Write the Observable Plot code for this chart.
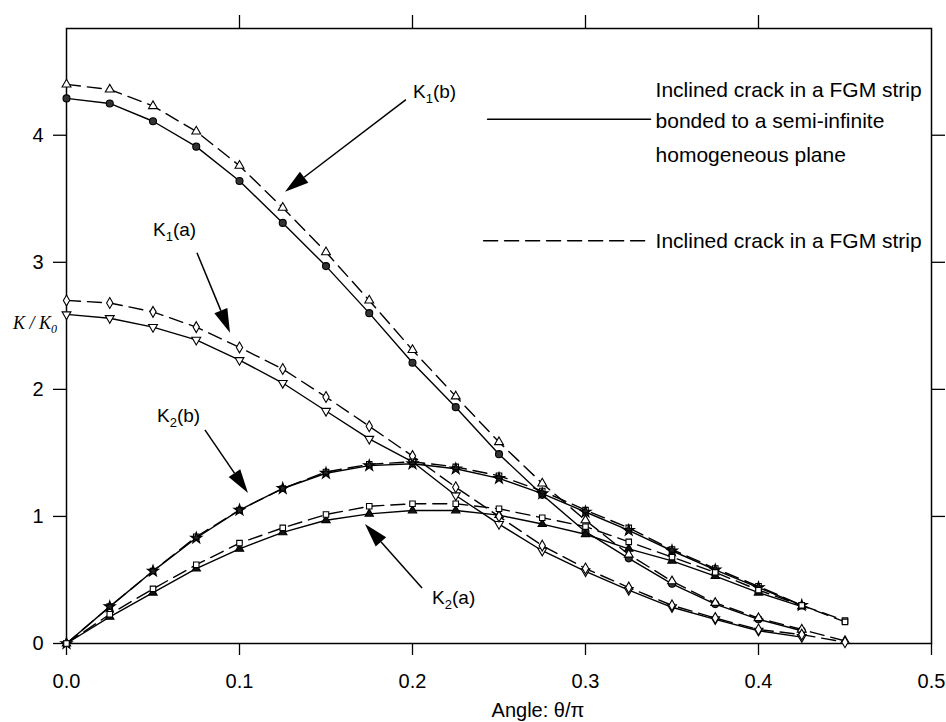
<!DOCTYPE html>
<html>
<head>
<meta charset="utf-8">
<script src="https://cdn.jsdelivr.net/npm/d3@7"></script>
<script src="https://cdn.jsdelivr.net/npm/@observablehq/plot@0.6"></script>
<style>
  html, body { margin: 0; padding: 0; background: #fff; }
  #chart svg { display: block; }
</style>
</head>
<body>
<div id="chart"></div>
<script>
// ---------- data ----------
const theta = [0, 0.025, 0.05, 0.075, 0.1, 0.125, 0.15, 0.175, 0.2, 0.225, 0.25, 0.275, 0.3, 0.325, 0.35, 0.375, 0.4, 0.425, 0.45];
const xTicks = [0, 0.1, 0.2, 0.3, 0.4, 0.5];
const yTicks = [0, 1, 2, 3, 4];

// solid: FGM strip bonded to a semi-infinite homogeneous plane
const K1b_solid  = [4.29, 4.25, 4.11, 3.91, 3.64, 3.31, 2.97, 2.60, 2.21, 1.86, 1.49, 1.17, 0.88, 0.67, 0.47, 0.31, 0.19, 0.10];
const K1a_solid  = [2.59, 2.56, 2.49, 2.39, 2.23, 2.05, 1.83, 1.61, 1.43, 1.165, 0.94, 0.73, 0.567, 0.42, 0.285, 0.19, 0.10, 0.05];
const K2b_solid  = [0, 0.29, 0.57, 0.83, 1.05, 1.22, 1.34, 1.40, 1.415, 1.375, 1.30, 1.18, 1.035, 0.89, 0.73, 0.58, 0.44, 0.30];
const K2a_solid  = [0, 0.21, 0.40, 0.59, 0.745, 0.875, 0.97, 1.02, 1.047, 1.047, 1.01, 0.94, 0.86, 0.745, 0.65, 0.53, 0.40, 0.29];
// dashed: FGM strip alone
const K1b_dashed = [4.40, 4.36, 4.23, 4.03, 3.76, 3.43, 3.08, 2.70, 2.31, 1.945, 1.585, 1.26, 0.97, 0.70, 0.49, 0.32, 0.20, 0.11, 0.02];
const K1a_dashed = [2.70, 2.68, 2.61, 2.49, 2.33, 2.16, 1.94, 1.71, 1.475, 1.23, 1.00, 0.77, 0.59, 0.44, 0.30, 0.20, 0.11, 0.07, 0.01];
const K2b_dashed = [0, 0.29, 0.57, 0.84, 1.05, 1.22, 1.35, 1.41, 1.43, 1.39, 1.32, 1.20, 1.05, 0.91, 0.74, 0.59, 0.45, 0.30, 0.18];
const K2a_dashed = [0, 0.23, 0.43, 0.62, 0.79, 0.91, 1.015, 1.08, 1.10, 1.10, 1.06, 0.99, 0.92, 0.80, 0.68, 0.56, 0.42, 0.30, 0.17];

const legendText1 = ["Inclined crack in a FGM strip", "bonded to a semi-infinite", "homogeneous plane"];
const legendText2 = "Inclined crack in a FGM strip";
const xLabel = "Angle: θ/π";

// annotation labels (K with subscript) and arrows, in data units
const annLabels = [
  {sub: "1", tail: "(b)", x: 0.2006, y: 4.343},
  {sub: "1", tail: "(a)", x: 0.0503, y: 3.256},
  {sub: "2", tail: "(b)", x: 0.0526, y: 1.791},
  {sub: "2", tail: "(a)", x: 0.2116, y: 0.358}
];
const annArrows = [
  {x1: 0.1965, y1: 4.276, x2: 0.1266, y2: 3.551},
  {x1: 0.0757, y1: 3.071, x2: 0.0948, y2: 2.441},
  {x1: 0.0803, y1: 1.677, x2: 0.1052, y2: 1.181},
  {x1: 0.2058, y1: 0.433, x2: 0.1728, y2: 0.937}
];

// legend geometry in data units
const legendSolidLine = [{x: 0.2434, y: 4.126}, {x: 0.3376, y: 4.126}];
const legendDashLine  = [{x: 0.2411, y: 3.17}, {x: 0.3347, y: 3.17}];
const legendTextX = 0.3405;
const legendText1Y = [4.35, 4.108, 3.845];
const legendText2Y = 3.165;

// ---------- styles ----------
const FONT = "'Liberation Sans', Arial, Helvetica, sans-serif";
const DASH = "14,7";
const series = [
  {values: K1b_solid,  dashed: false, symbol: "circle",   fill: "#333", rotate: 0,   r: 3.5},
  {values: K1a_solid,  dashed: false, symbol: "triangle", fill: "white", rotate: 180, r: 3.3},
  {values: K2b_solid,  dashed: false, symbol: "star",     fill: "#222", rotate: 0,   r: 3.5},
  {values: K2a_solid,  dashed: false, symbol: "triangle", fill: "#111", rotate: 0,   r: 3.1},
  {values: K1b_dashed, dashed: true,  symbol: "triangle", fill: "white", rotate: 0,   r: 3.3},
  {values: K1a_dashed, dashed: true,  symbol: "diamond",  fill: "white", rotate: 0,   r: 3.3},
  {values: K2b_dashed, dashed: true,  symbol: "square",   fill: "none",  rotate: 0,   r: 3.1},
  {values: K2a_dashed, dashed: true,  symbol: "square",   fill: "white", rotate: 0,   r: 3.1}
];

const toRows = (vals) => vals.map((v, i) => ({x: theta[i], y: v}));

const marks = [];
marks.push(Plot.frame({stroke: "black", strokeWidth: 1.5}));
marks.push(Plot.axisX({anchor: "bottom", ticks: xTicks, tickFormat: d3.format(".1f"), tickSize: 12, tickPadding: 18, fontSize: 20, label: null, strokeWidth: 1.3}));
marks.push(Plot.axisX({anchor: "top", ticks: xTicks.slice(1, -1), tickFormat: () => "", tickSize: 14, label: null, strokeWidth: 1.3}));
marks.push(Plot.axisY({anchor: "left", ticks: yTicks, tickFormat: d3.format("d"), tickSize: 13, tickPadding: 10, fontSize: 20, label: null, strokeWidth: 1.3}));
marks.push(Plot.axisY({anchor: "right", ticks: yTicks.slice(1), tickFormat: () => "", tickSize: 13, label: null, strokeWidth: 1.3}));

for (const s of series) {
  marks.push(Plot.line(toRows(s.values), {x: "x", y: "y", stroke: "black", strokeWidth: 1.4, strokeDasharray: s.dashed ? DASH : null}));
}
for (const s of series) {
  marks.push(Plot.dot(toRows(s.values), {x: "x", y: "y", symbol: s.symbol, r: s.r, fill: s.fill, stroke: "black", strokeWidth: 1.1, rotate: s.rotate}));
}

// legend
marks.push(Plot.line(legendSolidLine, {x: "x", y: "y", stroke: "black", strokeWidth: 1.5}));
marks.push(Plot.line(legendDashLine, {x: "x", y: "y", stroke: "black", strokeWidth: 1.5, strokeDasharray: DASH}));
marks.push(Plot.text(legendText1, {x: () => legendTextX, y: (d, i) => legendText1Y[i], text: d => d, textAnchor: "start", lineAnchor: "middle", fontSize: 21, fill: "black"}));
marks.push(Plot.text([legendText2], {x: () => legendTextX, y: () => legendText2Y, text: d => d, textAnchor: "start", lineAnchor: "middle", fontSize: 21, fill: "black"}));

// x-axis title
marks.push(Plot.text([xLabel], {x: () => 0.2725, y: () => 0, dy: 67, text: d => d, textAnchor: "middle", lineAnchor: "middle", fontSize: 20, fill: "black"}));

// annotations: arrows with filled heads, K labels with subscripts, y label
marks.push((index, scales, values, dimensions) => {
  const g = d3.create("svg:g");
  for (const a of annArrows) {
    const x1 = scales.x(a.x1), y1 = scales.y(a.y1), x2 = scales.x(a.x2), y2 = scales.y(a.y2);
    const ang = Math.atan2(y2 - y1, x2 - x1);
    const L = 24, W = 7;
    const bx = x2 - L * Math.cos(ang), by = y2 - L * Math.sin(ang);
    g.append("line").attr("x1", x1).attr("y1", y1).attr("x2", bx).attr("y2", by)
      .attr("stroke", "black").attr("stroke-width", 1.5);
    g.append("polygon")
      .attr("points", `${x2},${y2} ${bx + W * Math.sin(ang)},${by - W * Math.cos(ang)} ${bx - W * Math.sin(ang)},${by + W * Math.cos(ang)}`)
      .attr("fill", "black");
  }
  for (const t of annLabels) {
    const txt = g.append("text").attr("x", scales.x(t.x)).attr("y", scales.y(t.y)).attr("dy", "0.36em")
      .attr("text-anchor", "start")
      .attr("font-family", FONT).attr("font-size", 19).attr("fill", "black");
    txt.append("tspan").text("K");
    txt.append("tspan").attr("dy", 5).attr("font-size", 13).text(t.sub);
    txt.append("tspan").attr("dy", -5).text(t.tail);
  }
  const yl = g.append("text").attr("x", dimensions.marginLeft - 9).attr("y", scales.y(2.52)).attr("dy", "0.36em")
    .attr("text-anchor", "end").attr("font-family", "'Liberation Serif', 'Times New Roman', serif")
    .attr("font-style", "italic").attr("font-size", 18).attr("fill", "black");
  yl.append("tspan").text("K / K");
  yl.append("tspan").attr("dy", 4).attr("font-size", 12).text("0");
  return g.node();
});

const chart = Plot.plot({
  width: 946,
  height: 722,
  marginLeft: 66,
  marginRight: 15,
  marginTop: 28,
  marginBottom: 79,
  style: {fontFamily: FONT, color: "black", background: "white"},
  x: {domain: [0, 0.5]},
  y: {domain: [0, 4.84]},
  marks
});
document.getElementById("chart").appendChild(chart);
</script>
</body>
</html>
